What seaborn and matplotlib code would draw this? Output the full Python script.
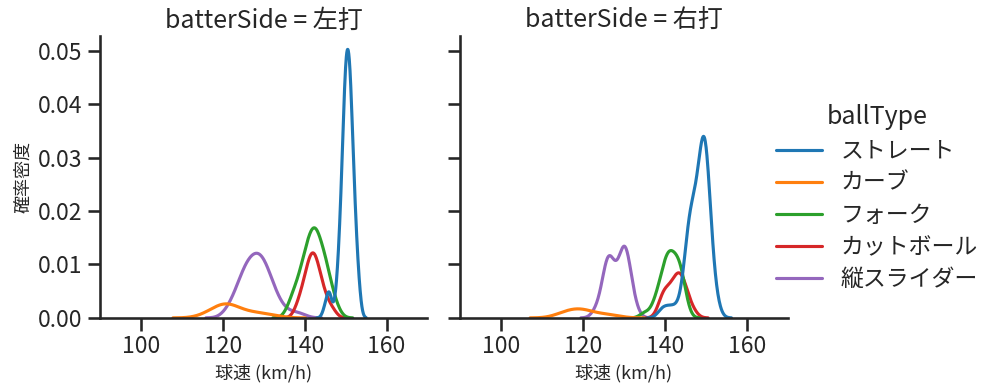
import numpy as np
import pandas as pd
import matplotlib
matplotlib.use("Agg")
import matplotlib.pyplot as plt
import seaborn as sns

# pitch speed (km/h) -> number of pitches
left_straight = {145: 1, 146: 3, 148: 3, 149: 10, 150: 22, 151: 22, 152: 11, 153: 4}
left_curve = {116: 1, 118: 1, 119: 1, 120: 2, 121: 1, 122: 2, 123: 1, 125: 1, 127: 1, 129: 1, 132: 1}
left_fork = {136: 1, 137: 2, 138: 3, 139: 3, 140: 6, 141: 6, 142: 8, 143: 8, 144: 5, 145: 6,
             146: 3, 147: 2, 148: 1}
left_cutter = {138: 1, 139: 2, 140: 3, 141: 5, 142: 6, 143: 5, 144: 3, 145: 2, 146: 1, 147: 1}
left_slider = {121: 1, 122: 1, 123: 2, 124: 3, 125: 4, 126: 5, 127: 5, 128: 5, 129: 6, 130: 5,
               131: 4, 132: 3, 133: 2, 134: 1, 135: 1, 137: 1, 139: 1}

right_straight = {139: 1, 140: 1, 141: 1, 142: 1, 143: 1, 144: 1, 145: 5, 146: 10, 147: 9,
                  148: 10, 149: 15, 150: 19, 151: 8, 152: 3, 153: 1}
right_curve = {115: 1, 116: 1, 118: 1, 119: 1, 120: 1, 121: 1, 124: 1, 127: 1}
right_fork = {135: 1, 137: 1, 138: 2, 139: 3, 140: 5, 141: 6, 142: 5, 143: 5, 144: 5, 145: 2}
right_cutter = {139: 2, 140: 3, 141: 2, 142: 3, 143: 4, 144: 4, 145: 3, 146: 1, 147: 1}
right_slider = {123: 1, 124: 1, 125: 3, 126: 7, 127: 5, 128: 3, 129: 4, 130: 8, 131: 6, 132: 2, 133: 1}

sides = ["左打", "右打"]
ball_types = ["ストレート", "カーブ", "フォーク", "カットボール", "縦スライダー"]

tables = {
    "左打": [left_straight, left_curve, left_fork, left_cutter, left_slider],
    "右打": [right_straight, right_curve, right_fork, right_cutter, right_slider],
}

frames = []
for side in sides:
    for ball, table in zip(ball_types, tables[side]):
        speeds = np.repeat(list(table.keys()), list(table.values()))
        frames.append(pd.DataFrame({"球速": speeds.astype(float), "batterSide": side, "ballType": ball}))
df = pd.concat(frames, ignore_index=True)

sns.set_theme(context="talk", style="ticks")
plt.rcParams["font.family"] = ["Noto Sans CJK JP", "DejaVu Sans"]

g = sns.displot(data=df, x="球速", hue="ballType", col="batterSide", kind="kde",
                hue_order=ball_types, col_order=sides, palette="tab10",
                height=3.6, aspect=1.0)
g.set(xlim=(90, 170))
g.set_axis_labels("球速 (km/h)", "確率密度", fontsize=13)

g.figure.set_size_inches(9.97, 3.91)
g.figure.subplots_adjust(left=0.1003, right=0.790, bottom=0.187, top=0.908, wspace=0.10)
sns.move_legend(g, "center left", bbox_to_anchor=(0.758, 0.494), frameon=False,
                labelspacing=0.4)

g.figure.savefig("out.png", dpi=100)
